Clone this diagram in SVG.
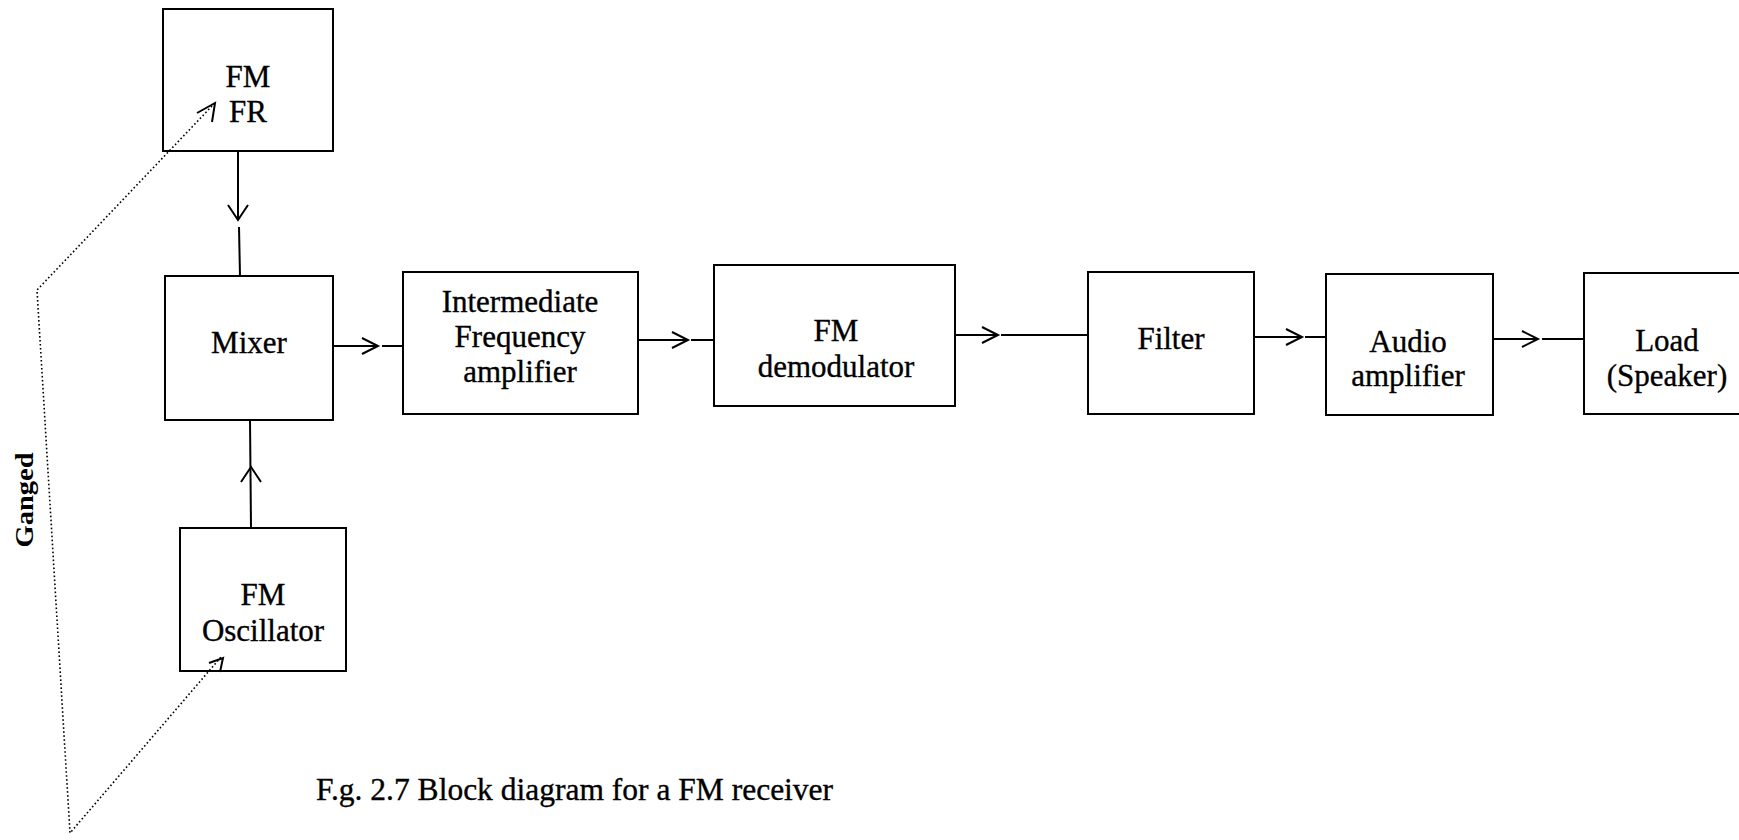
<svg xmlns="http://www.w3.org/2000/svg" width="1739" height="840" viewBox="0 0 1739 840">
<style>
  .box { fill: none; stroke: #000; stroke-width: 2; }
  .lbl { font-family: "Liberation Serif", "Times New Roman", serif; font-size: 31px; fill: #000; stroke: #000; stroke-width: 0.35; text-anchor: middle; }
  .wire { fill: none; stroke: #000; stroke-width: 2; }
  .dot { fill: none; stroke: #000; stroke-width: 1.6; stroke-dasharray: 1.6 2.4; }
</style>
<rect x="0" y="0" width="1739" height="840" fill="#fff"/>

<g id="connectors">
  <!-- FM FR to Mixer -->
  <line class="wire" x1="238" y1="151" x2="238" y2="220"/>
  <polyline class="wire" points="228,205 238,220 248,205"/>
  <line class="wire" x1="239" y1="227" x2="240" y2="276"/>
  <!-- Oscillator to Mixer -->
  <line class="wire" x1="251" y1="528" x2="250" y2="420"/>
  <polyline class="wire" points="241,482 251,467 261,482"/>
  <!-- Mixer to IF -->
  <line class="wire" x1="333" y1="346" x2="378" y2="346"/>
  <polyline class="wire" points="362,338 378,346 362,354"/>
  <line class="wire" x1="382" y1="346" x2="403" y2="346"/>
  <!-- IF to Demod -->
  <line class="wire" x1="638" y1="340" x2="688" y2="340"/>
  <polyline class="wire" points="672,332 688,340 672,348"/>
  <line class="wire" x1="691" y1="340" x2="714" y2="340"/>
  <!-- Demod to Filter -->
  <line class="wire" x1="955" y1="335" x2="998" y2="335"/>
  <polyline class="wire" points="982,327 998,335 982,343"/>
  <line class="wire" x1="1001" y1="335" x2="1088" y2="335"/>
  <!-- Filter to Audio -->
  <line class="wire" x1="1254" y1="337" x2="1302" y2="337"/>
  <polyline class="wire" points="1286,329 1302,337 1286,345"/>
  <line class="wire" x1="1305" y1="337" x2="1326" y2="337"/>
  <!-- Audio to Load -->
  <line class="wire" x1="1493" y1="339" x2="1538" y2="339"/>
  <polyline class="wire" points="1522,331 1538,339 1522,347"/>
  <line class="wire" x1="1542" y1="339" x2="1584" y2="339"/>
  <!-- Ganged dotted link -->
  <polyline class="dot" points="212,106 37,290 70,833 221,657"/>
  <polyline class="wire" points="197,113 215,103 212,122" stroke-width="2"/>
  <polyline class="wire" points="209,663 223,658 220,672" stroke-width="2"/>
</g>

<g id="fmfr">
  <rect class="box" x="163" y="9" width="170" height="142"/>
  <text class="lbl" x="248" y="87">FM</text>
  <text class="lbl" x="248" y="122">FR</text>
</g>

<g id="mixer">
  <rect class="box" x="165" y="276" width="168" height="144"/>
  <text class="lbl" x="249" y="353">Mixer</text>
</g>

<g id="oscillator">
  <rect class="box" x="180" y="528" width="166" height="143"/>
  <text class="lbl" x="263" y="605">FM</text>
  <text class="lbl" x="263" y="641">Oscillator</text>
</g>

<g id="if-amp">
  <rect class="box" x="403" y="272" width="235" height="142"/>
  <text class="lbl" x="520" y="312">Intermediate</text>
  <text class="lbl" x="520" y="347">Frequency</text>
  <text class="lbl" x="520" y="382">amplifier</text>
</g>

<g id="demodulator">
  <rect class="box" x="714" y="265" width="241" height="141"/>
  <text class="lbl" x="836" y="341">FM</text>
  <text class="lbl" x="836" y="377">demodulator</text>
</g>

<g id="filter">
  <rect class="box" x="1088" y="272" width="166" height="142"/>
  <text class="lbl" x="1171" y="349">Filter</text>
</g>

<g id="audio-amp">
  <rect class="box" x="1326" y="274" width="167" height="141"/>
  <text class="lbl" x="1408" y="352">Audio</text>
  <text class="lbl" x="1408" y="386">amplifier</text>
</g>

<g id="load">
  <rect class="box" x="1584" y="273" width="170" height="141"/>
  <text class="lbl" x="1667" y="351">Load</text>
  <text class="lbl" x="1667" y="386">(Speaker)</text>
</g>

<g id="ganged-label">
  <text transform="translate(33,500) rotate(-90)" text-anchor="middle" font-family="'Liberation Serif', 'Times New Roman', serif" font-weight="bold" font-size="25" textLength="95" lengthAdjust="spacingAndGlyphs">Ganged</text>
</g>

<g id="caption">
  <text x="316" y="800" font-family="'Liberation Serif', 'Times New Roman', serif" font-size="31.5" stroke="#000" stroke-width="0.35">F.g. 2.7 Block diagram for a FM receiver</text>
</g>
</svg>
